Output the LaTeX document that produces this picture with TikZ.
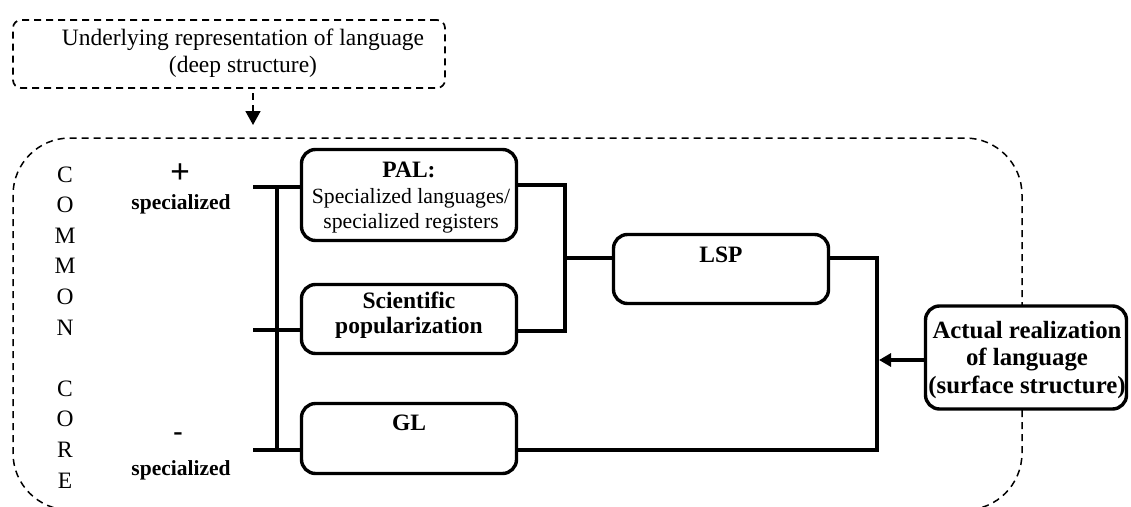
\documentclass[tikz,border=0pt]{standalone}
\usepackage{fontspec}
\setmainfont{Liberation Serif}
\usetikzlibrary{arrows.meta}
\tikzset{
  box/.style={draw, line width=3.4pt, rounded corners=14pt, fill=white, inner sep=0pt},
  conn/.style={line width=3.6pt, line join=miter},
  dsh/.style={line width=1.7pt, dash pattern=on 7pt off 5pt},
  txt/.style={inner sep=0pt, anchor=base, font=\fontsize{23.5}{27}\selectfont},
  btxt/.style={inner sep=0pt, anchor=base, font=\bfseries\fontsize{23.5}{27}\selectfont},
  stxt/.style={inner sep=0pt, anchor=base, font=\fontsize{21.7}{25}\selectfont},
  sbtxt/.style={inner sep=0pt, anchor=base, font=\bfseries\fontsize{21.5}{25}\selectfont},
  atxt/.style={inner sep=0pt, anchor=base, font=\bfseries\fontsize{24.8}{28}\selectfont},
}
\begin{document}
\begin{tikzpicture}[x=1pt,y=-1pt]
\useasboundingbox (0,0) rectangle (1131,506);

% big dashed region
\begin{scope}
  \clip (0,0) rectangle (1131,506);
  \draw[dsh, line width=1.5pt, rounded corners=57pt] (13,138) rectangle (1022,510);
\end{scope}

% top dashed box
\node[draw, dsh, rounded corners=8pt, minimum width=432pt, minimum height=68pt, inner sep=0pt] (top) at (229,54) {};
\node[txt] (t1) at (243,45) {Underlying representation of language};
\node[txt] (t2) at (243,72) {(deep structure)};
\coordinate (d1) at (253,93);
\coordinate (d2) at (253,125);
\draw[dsh, -{Triangle[length=14pt,width=15pt]}] (d1) -- (d2);

% COMMON CORE
\foreach \l/\k in {C/0,O/1,M/2,M/3,O/4,N/5,C/7,O/8,R/9,E/10}
  \node[txt] (cc\k) at (65,{182+30.6*\k}) {\l};

% + / - specialized
\node[inner sep=0pt, font=\bfseries\fontsize{35}{35}\selectfont] (plus) at (180,174) {+};
\node[sbtxt] (sp1) at (181,209) {specialized};
\node[inner sep=0pt, font=\bfseries\fontsize{28}{28}\selectfont] (minus) at (178,437) {-};
\node[sbtxt] (sp2) at (181,475) {specialized};

% boxes
\node[box, minimum width=215pt, minimum height=91pt] (pal) at (409,195) {};
\node[box, minimum width=215pt, minimum height=69pt] (sci) at (409,319) {};
\node[box, minimum width=215pt, minimum height=70pt] (gl) at (409,438.5) {};
\node[box, minimum width=215pt, minimum height=69pt] (lsp) at (721,269) {};

\node[btxt] (palt) at (409,177) {PAL:};
\node[stxt] (pal1) at (411,203) {Specialized languages/};
\node[stxt] (pal2) at (411,228) {specialized registers};
\node[btxt] (sci1) at (409,308) {Scientific};
\node[btxt] (sci2) at (409,333) {popularization};
\node[btxt] (glt) at (409,430) {GL};
\node[btxt] (lspt) at (721,262) {LSP};

% left connectors
\coordinate (l1) at (253,187);
\coordinate (l2) at (253,330);
\coordinate (l3) at (253,450);
\coordinate (b1) at (277,187);
\coordinate (b3) at (277,450);
\draw[conn] (l1) -- (l1 -| pal.west);
\draw[conn] (l2) -- (l2 -| sci.west);
\draw[conn] (l3) -- (l3 -| gl.west);
\draw[conn] (b1) -- (b3);

% middle connectors
\coordinate (r1) at (565,185);
\coordinate (r2) at (565,331);
\coordinate (r3) at (565,258);
\draw[conn] (r1 -| pal.east) -- (r1) -- (r2) -- (r2 -| sci.east);
\draw[conn] (r3) -- (r3 -| lsp.west);

% right connectors
\coordinate (q1) at (877,258);
\coordinate (q2) at (877,450);
\draw[conn] (q1 -| lsp.east) -- (q1) -- (q2) -- (q2 -| gl.east);

% actual realization
\node[box, minimum width=201pt, minimum height=103pt] (act) at (1026,357.5) {};
\node[atxt] (a1) at (1027,338) {Actual realization};
\node[atxt] (a2) at (1027,365) {of language};
\node[atxt] (a3) at (1027,393) {(surface structure)};
\coordinate (ar) at (879,360);
\draw[conn, -{Triangle[length=12pt,width=13pt]}] (ar -| act.west) -- (ar);
\end{tikzpicture}
\end{document}
